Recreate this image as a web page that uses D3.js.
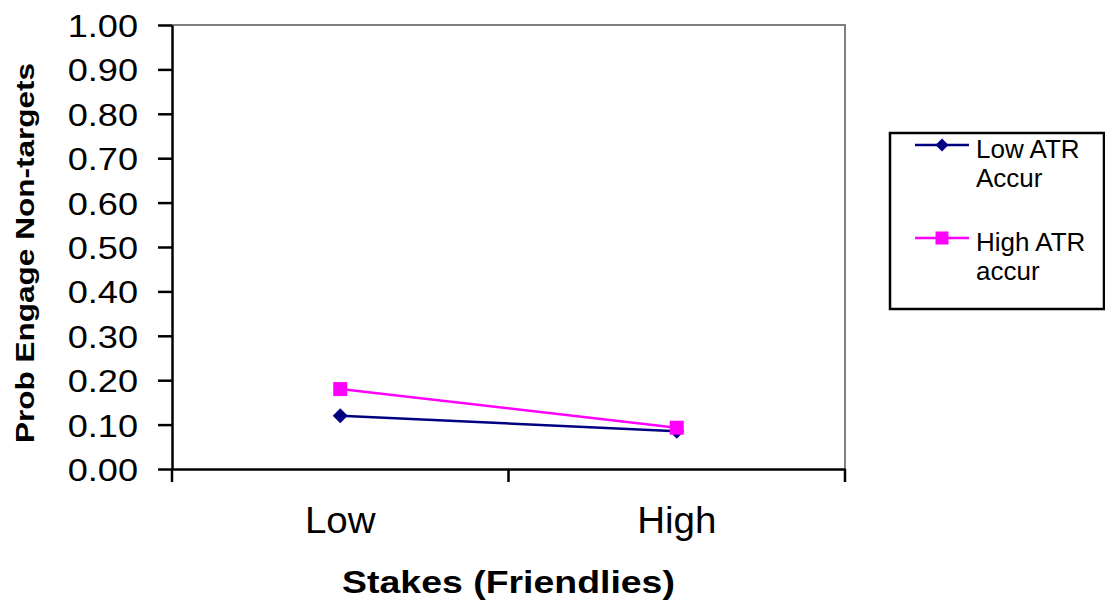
<!DOCTYPE html>
<html><head><meta charset="utf-8">
<script src="https://cdn.jsdelivr.net/npm/d3@7"></script>
<style>body{margin:0;background:#fff;} svg{display:block;font-family:Arial,"Liberation Sans",sans-serif;}</style>
</head><body>
<svg id="c" width="1105" height="610"></svg>
<script>
const categories = ["Low", "High"];
const lowATR = [0.12, 0.085];
const highATR = [0.18, 0.093];
const yTicks = [0, 0.1, 0.2, 0.3, 0.4, 0.5, 0.6, 0.7, 0.8, 0.9, 1.0];
const seriesNames = [["Low ATR", "Accur"], ["High ATR", "accur"]];
const seriesColors = ["#000080", "#FF00FF"];

const svg = d3.select("#c");
const L = 172, R = 845, T = 25, B = 469;
const x = d3.scaleBand().domain(categories).range([L, R]);
const y = d3.scaleLinear().domain([0, 1]).range([B, T]);

// plot frame top/right grey
svg.append("path").attr("d", `M${L},${T}H${R}V${B}`).attr("fill", "none").attr("stroke", "#808080").attr("stroke-width", 2);

// y axis
const ya = svg.append("g").attr("transform", `translate(${L},0)`)
  .call(d3.axisLeft(y).tickValues(yTicks).tickFormat(d3.format(".2f")).tickSize(14).tickSizeOuter(0));
ya.select(".domain").attr("stroke", "#000").attr("stroke-width", 2.5);
ya.selectAll(".tick line").attr("stroke", "#000").attr("stroke-width", 2.5);
ya.selectAll(".tick text").attr("font-size", 32).attr("fill", "#000").attr("x", 0).attr("dy", "0.36em")
  .attr("transform", "translate(-34,0) scale(1.13,1)");

// x axis
const xa = svg.append("g").attr("transform", `translate(0,${B})`)
  .call(d3.axisBottom(x).tickSize(0).tickSizeOuter(0));
xa.select(".domain").attr("stroke", "#000").attr("stroke-width", 2.5);
xa.selectAll(".tick text").attr("font-size", 36).attr("fill", "#000").attr("y", 0).attr("dy", 0)
  .attr("transform", "translate(0,64) scale(1.07,1)");
// category boundary ticks
const bounds = [L, ...categories.slice(1).map(c => x(c)), R];
svg.append("g").selectAll("line").data(bounds).join("line")
  .attr("x1", d => d).attr("x2", d => d).attr("y1", B).attr("y2", B + 13)
  .attr("stroke", "#000").attr("stroke-width", 2.5);

// titles
svg.append("text").attr("transform", `translate(${(L + R) / 2},593) scale(1.17,1)`).attr("text-anchor", "middle")
  .attr("font-size", 32).attr("font-weight", "bold").text("Stakes (Friendlies)");
svg.append("text").attr("transform", `translate(34,253) rotate(-90) scale(1.19,1)`).attr("text-anchor", "middle")
  .attr("font-size", 26.5).attr("font-weight", "bold").text("Prob Engage Non-targets");

const cx = c => x(c) + x.bandwidth() / 2;
const line = d3.line().x((d, i) => cx(categories[i])).y(d => y(d));
const diamond = (g, s) => g.append("path").attr("d", `M0,${-s}L${s},0L0,${s}L${-s},0Z`);
const square = (g, s) => g.append("rect").attr("x", -s).attr("y", -s).attr("width", 2 * s).attr("height", 2 * s);

[lowATR, highATR].forEach((vals, si) => {
  svg.append("path").datum(vals).attr("d", line).attr("fill", "none")
    .attr("stroke", seriesColors[si]).attr("stroke-width", 2.5);
  vals.forEach((v, i) => {
    const g = svg.append("g").attr("transform", `translate(${cx(categories[i])},${y(v)})`).attr("fill", seriesColors[si]);
    if (si === 0) diamond(g, 7.5); else square(g, 7);
  });
});

// legend
svg.append("rect").attr("x", 890).attr("y", 133).attr("width", 214).attr("height", 176)
  .attr("fill", "#fff").attr("stroke", "#000").attr("stroke-width", 2.5);
const legY = [145, 238];
seriesNames.forEach((nm, si) => {
  const ly = legY[si];
  svg.append("line").attr("x1", 915).attr("x2", 969).attr("y1", ly).attr("y2", ly)
    .attr("stroke", seriesColors[si]).attr("stroke-width", 2.5);
  const g = svg.append("g").attr("transform", `translate(942,${ly})`).attr("fill", seriesColors[si]);
  if (si === 0) diamond(g, 6.5); else square(g, 6.5);
  const t = svg.append("text").attr("x", 976).attr("font-size", 26).attr("fill", "#000");
  t.append("tspan").attr("x", 976).attr("y", ly + 13).text(nm[0]);
  t.append("tspan").attr("x", 976).attr("y", ly + 42).text(nm[1]);
});
</script>
</body></html>
